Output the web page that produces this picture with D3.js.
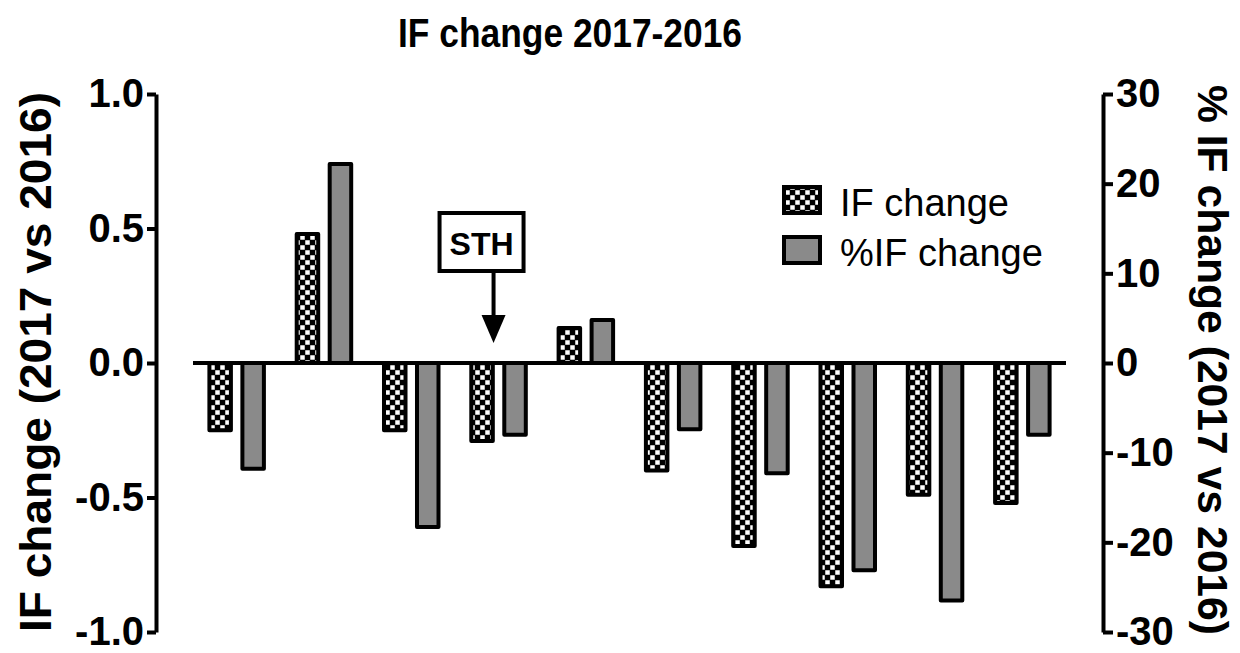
<!DOCTYPE html>
<html>
<head>
<meta charset="utf-8">
<script src="https://cdn.jsdelivr.net/npm/d3@7/dist/d3.min.js"></script>
<style>
  html, body { margin: 0; padding: 0; background: #fff; }
  svg { display: block; }
  text { font-family: "Liberation Sans", Arial, Helvetica, sans-serif; fill: #000; }
</style>
</head>
<body>
<svg id="chart" width="1240" height="653"></svg>
<script>
// ---- data ----
const categories = ["1", "2", "3", "4", "5", "6", "7", "8", "9", "10"];
const seriesNames = ["IF change", "%IF change"];
const ifChange = [-0.25, 0.48, -0.25, -0.29, 0.13, -0.40, -0.68, -0.83, -0.49, -0.52];
const pctIfChange = [-11.8, 22.2, -18.3, -8.0, 4.8, -7.4, -12.3, -23.1, -26.5, -8.0];
const leftTicks = [-1.0, -0.5, 0.0, 0.5, 1.0];
const rightTicks = [-30, -20, -10, 0, 10, 20, 30];
const title = "IF change 2017-2016";
const leftTitle = "IF change (2017 vs 2016)";
const rightTitle = "% IF change (2017 vs 2016)";
const annotationLabel = "STH";
const annotationIndex = 3;

const svg = d3.select("#chart");
const SW = 4;

// patterns
const defs = svg.append("defs");
const pat = defs.append("pattern").attr("id", "checker")
  .attr("patternUnits", "userSpaceOnUse").attr("width", 10).attr("height", 10);
pat.append("rect").attr("width", 10).attr("height", 10).attr("fill", "#000");
pat.append("rect").attr("x", 5.25).attr("y", 0.25).attr("width", 4.5).attr("height", 4.5).attr("fill", "#fff");
pat.append("rect").attr("x", 0.25).attr("y", 5.25).attr("width", 4.5).attr("height", 4.5).attr("fill", "#fff");

const fills = ["url(#checker)", "#8a8a8a"];

// scales
const x0 = d3.scaleBand().domain(categories).range([193, 1066]).padding(0);
const x1 = d3.scaleBand().domain(seriesNames).range([16.4, 70.9]).paddingInner(0.348).paddingOuter(0);
const yL = d3.scaleLinear().domain([-1, 1]).range([632, 94]);
const yR = d3.scaleLinear().domain([-30, 30]).range([632, 94]);

// title
svg.append("text").attr("x", 570).attr("y", 47).attr("text-anchor", "middle")
  .attr("font-size", 41).attr("font-weight", "bold")
  .attr("textLength", 344).attr("lengthAdjust", "spacingAndGlyphs")
  .text(title);

// bars
const rows = categories.map((c, i) => ({ c, vals: [ifChange[i], pctIfChange[i]] }));
const g = svg.append("g");
rows.forEach(r => {
  r.vals.forEach((v, si) => {
    const sc = si === 0 ? yL : yR;
    const y0 = sc(0), yv = sc(v);
    g.append("rect")
      .attr("x", x0(r.c) + x1(seriesNames[si]))
      .attr("y", Math.min(y0, yv))
      .attr("width", x1.bandwidth())
      .attr("height", Math.abs(yv - y0))
      .attr("fill", fills[si])
      .attr("stroke", "#000").attr("stroke-width", SW)
      .attr("stroke-linejoin", "round");
  });
});

// zero line
svg.append("line").attr("x1", x0.range()[0]).attr("x2", x0.range()[1])
  .attr("y1", yL(0)).attr("y2", yL(0)).attr("stroke", "#000").attr("stroke-width", SW);

// axes
const axL = d3.axisLeft(yL).tickValues(leftTicks).tickFormat(d3.format(".1f")).tickSize(9).tickPadding(3).tickSizeOuter(0);
const gL = svg.append("g").attr("transform", "translate(156,0)").call(axL);
const axR = d3.axisRight(yR).tickValues(rightTicks).tickFormat(d3.format("d")).tickSize(10).tickPadding(3).tickSizeOuter(0);
const gR = svg.append("g").attr("transform", "translate(1103,0)").call(axR);
[gL, gR].forEach(a => {
  a.select(".domain").attr("stroke", "#000").attr("stroke-width", SW);
  a.selectAll(".tick line").attr("stroke", "#000").attr("stroke-width", SW);
  a.selectAll(".tick text").attr("font-size", 40).attr("font-weight", "bold")
    .attr("font-family", "Liberation Sans, Arial, sans-serif").attr("fill", "#000");
});
gL.selectAll(".tick text").text(d => d3.format(".1f")(d).replace("−", "-"));
gR.selectAll(".tick text").text(d => String(d));

// axis titles
svg.append("text").attr("transform", "translate(51,362) rotate(-90)")
  .attr("text-anchor", "middle").attr("font-size", 45).attr("font-weight", "bold")
  .attr("textLength", 540).attr("lengthAdjust", "spacingAndGlyphs")
  .text(leftTitle);
svg.append("text").attr("transform", "translate(1198,360) rotate(90)")
  .attr("text-anchor", "middle").attr("font-size", 43).attr("font-weight", "bold")
  .attr("textLength", 550).attr("lengthAdjust", "spacingAndGlyphs")
  .text(rightTitle);

// legend
const legend = svg.append("g");
const legY = [185, 235];
seriesNames.forEach((s, i) => {
  legend.append("rect").attr("x", 784).attr("y", legY[i] + 2)
    .attr("width", 36).attr("height", 26)
    .attr("fill", fills[i]).attr("stroke", "#000").attr("stroke-width", SW);
  legend.append("text").attr("x", 840).attr("y", legY[i] + 31)
    .attr("font-size", 38).text(s);
});

// annotation
const ax = x0(categories[annotationIndex]) + x0.bandwidth() / 2 - 5;
const boxCx = ax - 12;
svg.append("rect").attr("x", boxCx - 42).attr("y", 213).attr("width", 84).attr("height", 58)
  .attr("fill", "#fff").attr("stroke", "#000").attr("stroke-width", SW);
svg.append("text").attr("x", boxCx).attr("y", 255).attr("text-anchor", "middle")
  .attr("font-size", 32).attr("font-weight", "bold").text(annotationLabel);
const tipY = yL(0) - 20;
svg.append("line").attr("x1", ax).attr("x2", ax).attr("y1", 271).attr("y2", tipY - 20)
  .attr("stroke", "#000").attr("stroke-width", SW);
svg.append("path").attr("d", `M${ax - 12},${tipY - 28} L${ax + 12},${tipY - 28} L${ax},${tipY} Z`)
  .attr("fill", "#000");
</script>
</body>
</html>
